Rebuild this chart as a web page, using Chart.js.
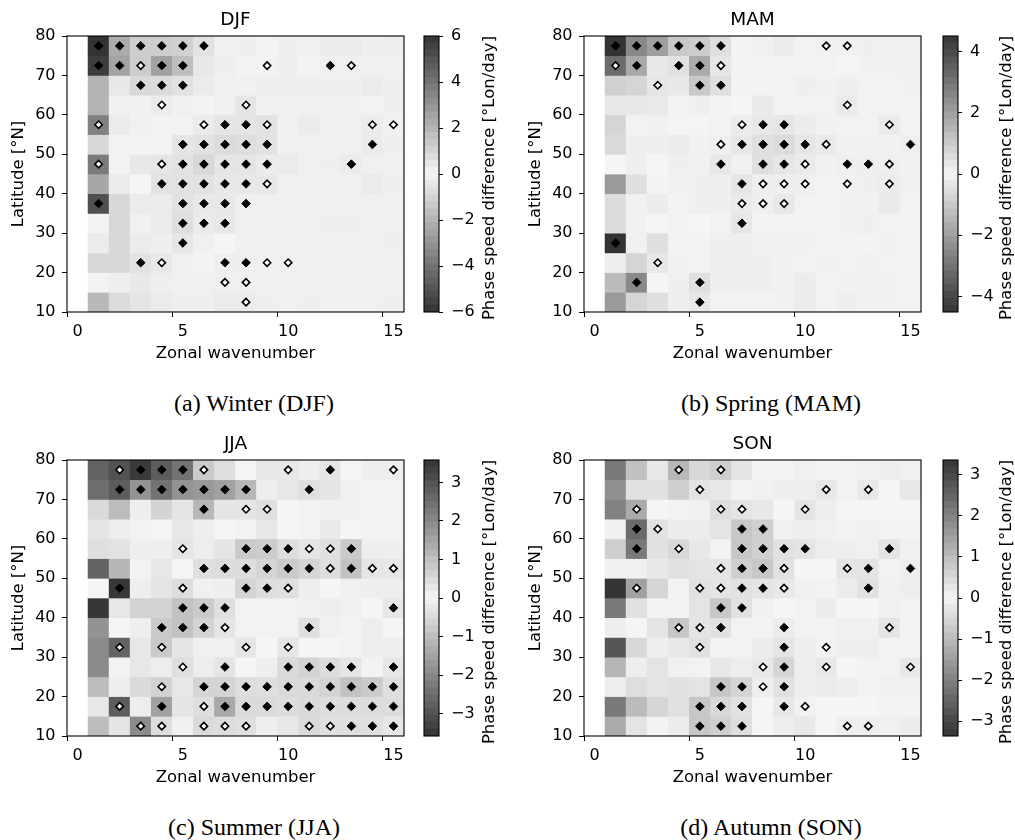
<!DOCTYPE html>
<html lang="en">
  <head>
    <meta charset="utf-8">
    <title>Phase speed difference</title>
    <script src="https://cdn.jsdelivr.net/npm/chart.js"></script>
    <style>
      body { margin: 0; background: #fff; }
      #wrap { position: relative; width: 1015px; height: 840px; overflow: hidden; }
      canvas { position: absolute; }
      .cblabel { position: absolute; width: 320px; text-align: center; font: 16.5px 'DejaVu Sans', sans-serif; color: #000;
                 transform: translate(-50%, -50%) rotate(-90deg); white-space: nowrap; line-height: 20px; }
      .caption { position: absolute; width: 300px; margin-left: -150px; text-align: center;
                 font: 24px 'Liberation Serif', 'Times New Roman', serif; line-height: 24px; color: #000; }
    </style>
  </head>
  <body>
    <div id="wrap">
      <canvas id="hmA" width="410" height="364" style="left:0px;top:0px"></canvas>
      <canvas id="cbA" width="62" height="364" style="left:420px;top:0px"></canvas>
      <canvas id="hmB" width="410" height="364" style="left:517px;top:0px"></canvas>
      <canvas id="cbB" width="62" height="364" style="left:939px;top:0px"></canvas>
      <canvas id="hmC" width="410" height="364" style="left:0px;top:424px"></canvas>
      <canvas id="cbC" width="62" height="364" style="left:420px;top:424px"></canvas>
      <canvas id="hmD" width="410" height="364" style="left:517px;top:424px"></canvas>
      <canvas id="cbD" width="62" height="364" style="left:939px;top:424px"></canvas>

      <div class="cblabel" style="left:489px;top:178px">Phase speed difference [°Lon/day]</div>
      <div class="cblabel" style="left:1006px;top:178px">Phase speed difference [°Lon/day]</div>
      <div class="cblabel" style="left:489px;top:602px">Phase speed difference [°Lon/day]</div>
      <div class="cblabel" style="left:1006px;top:602px">Phase speed difference [°Lon/day]</div>

      <div class="caption" style="left:254px;top:391px">(a) Winter (DJF)</div>
      <div class="caption" style="left:771px;top:391px">(b) Spring (MAM)</div>
      <div class="caption" style="left:254px;top:815px">(c) Summer (JJA)</div>
      <div class="caption" style="left:771px;top:815px">(d) Autumn (SON)</div>
    </div>

  <script>
    // axes
    const wavenumbers = [0, 1, 2, 3, 4, 5, 6, 7, 8, 9, 10, 11, 12, 13, 14, 15];
    const latitudes = [77.5, 72.5, 67.5, 62.5, 57.5, 52.5, 47.5, 42.5, 37.5, 32.5, 27.5, 22.5, 17.5, 12.5];

    // |phase speed difference| per cell, rows = latitudes (north to south), columns = wavenumber 1..15
    const djfValues = [
      [6.0, 2.3, 1.25, 1.25, 1.1, 0.6, 0.15, 0.2, 0.05, 0.2, 0.15, 0.3, 0.3, 0.2, 0.25],
      [5.7, 2.5, 1.25, 2.6, 1.7, 0.4, 0.2, 0.05, 0.1, 0.2, 0.05, 0.15, 0.15, 0.15, 0.15],
      [2.0, 0.4, 0.9, 0.8, 0.6, 0.3, 0.15, 0.15, 0.2, 0.2, 0.2, 0.2, 0.2, 0.3, 0.2],
      [2.0, 0.15, 0.15, 0.3, 0.15, 0.05, 0.15, 0.5, 0.15, 0.15, 0.15, 0.15, 0.15, 0.1, 0.2],
      [3.6, 0.3, 0.15, 0.1, 0.1, 0.3, 0.5, 0.5, 0.6, 0.15, 0.3, 0.15, 0.15, 0.3, 0.15],
      [0.9, 0.1, 0.05, 0.1, 0.5, 0.6, 0.8, 0.7, 0.6, 0.15, 0.15, 0.15, 0.15, 0.3, 0.2],
      [3.8, 0.05, 0.4, 0.45, 0.6, 0.9, 0.5, 0.5, 0.3, 0.3, 0.15, 0.2, 0.3, 0.15, 0.15],
      [2.4, 0.3, 0.0, 0.6, 0.6, 0.6, 0.4, 0.4, 0.4, 0.15, 0.15, 0.15, 0.15, 0.3, 0.2],
      [5.1, 0.9, 0.3, 0.3, 0.6, 0.4, 0.4, 0.2, 0.15, 0.15, 0.15, 0.15, 0.15, 0.15, 0.15],
      [0.05, 0.9, 0.15, 0.3, 0.7, 0.3, 0.4, 0.15, 0.15, 0.15, 0.15, 0.2, 0.2, 0.15, 0.15],
      [0.3, 0.9, 0.3, 0.2, 0.45, 0.15, 0.0, 0.15, 0.15, 0.15, 0.15, 0.15, 0.15, 0.15, 0.2],
      [0.9, 0.9, 0.6, 0.4, 0.15, 0.05, 0.2, 0.2, 0.15, 0.15, 0.15, 0.15, 0.15, 0.15, 0.15],
      [0.05, 0.2, 0.4, 0.2, 0.15, 0.15, 0.2, 0.15, 0.15, 0.15, 0.15, 0.15, 0.15, 0.15, 0.15],
      [1.85, 0.8, 0.5, 0.3, 0.2, 0.2, 0.3, 0.3, 0.2, 0.15, 0.2, 0.15, 0.15, 0.15, 0.2]
    ];
    const mamValues = [
      [4.5, 2.5, 2.0, 1.05, 0.95, 0.5, 0.05, 0.1, 0.2, 0.07, 0.1, 0.1, 0.15, 0.1, 0.1],
      [3.2, 1.8, 0.3, 0.45, 1.75, 0.35, 0.05, 0.05, 0.07, 0.07, 0.07, 0.02, 0.1, 0.1, 0.1],
      [0.85, 0.75, 0.35, 0.3, 1.05, 0.5, 0.05, 0.05, 0.07, 0.15, 0.1, 0.15, 0.07, 0.07, 0.1],
      [0.3, 0.3, 0.25, 0.05, 0.15, 0.05, 0.0, 0.25, 0.07, 0.07, 0.07, 0.25, 0.07, 0.07, 0.05],
      [0.75, 0.07, 0.1, 0.02, 0.02, 0.07, 0.2, 0.3, 0.35, 0.2, 0.1, 0.07, 0.07, 0.25, 0.07],
      [0.65, 0.15, 0.15, 0.2, 0.1, 0.15, 0.3, 0.5, 0.6, 0.35, 0.25, 0.1, 0.1, 0.1, 0.15],
      [0.0, 0.15, 0.0, 0.15, 0.1, 0.3, 0.1, 0.5, 0.35, 0.25, 0.1, 0.15, 0.15, 0.15, 0.1],
      [2.1, 0.5, 0.05, 0.1, 0.15, 0.15, 0.35, 0.15, 0.15, 0.15, 0.07, 0.1, 0.15, 0.2, 0.1],
      [0.55, 0.1, 0.2, 0.05, 0.15, 0.15, 0.25, 0.15, 0.3, 0.07, 0.07, 0.1, 0.1, 0.25, 0.07],
      [0.55, 0.1, 0.0, 0.07, 0.0, 0.07, 0.35, 0.05, 0.07, 0.07, 0.07, 0.1, 0.15, 0.07, 0.07],
      [4.5, 0.1, 0.5, 0.07, 0.07, 0.15, 0.15, 0.1, 0.1, 0.1, 0.07, 0.07, 0.05, 0.1, 0.07],
      [0.15, 0.75, 0.3, 0.1, 0.07, 0.15, 0.15, 0.15, 0.1, 0.07, 0.1, 0.07, 0.1, 0.07, 0.07],
      [1.35, 2.5, 0.0, 0.15, 0.5, 0.15, 0.15, 0.15, 0.1, 0.2, 0.07, 0.1, 0.1, 0.1, 0.07],
      [2.1, 0.75, 0.5, 0.15, 0.3, 0.07, 0.07, 0.07, 0.1, 0.2, 0.07, 0.15, 0.1, 0.1, 0.07]
    ];
    const jjaValues = [
      [2.7, 3.0, 3.45, 2.8, 2.4, 0.8, 0.4, 0.0, 0.25, 0.25, 0.12, 0.3, 0.0, 0.12, 0.12],
      [2.5, 2.8, 1.8, 2.4, 1.8, 1.7, 1.55, 1.15, 0.12, 0.25, 0.4, 0.3, 0.1, 0.05, 0.05],
      [0.5, 1.05, 0.12, 0.6, 0.3, 1.15, 0.3, 0.3, 0.4, 0.0, 0.05, 0.1, 0.1, 0.05, 0.05],
      [0.3, 0.15, 0.05, 0.0, 0.25, 0.12, 0.0, 0.05, 0.25, 0.0, 0.05, 0.2, 0.0, 0.05, 0.05],
      [0.4, 0.35, 0.12, 0.12, 0.3, 0.15, 0.3, 0.8, 0.75, 0.45, 0.3, 0.4, 0.8, 0.12, 0.12],
      [2.7, 1.15, 0.05, 0.25, 0.0, 0.4, 0.45, 0.45, 0.6, 0.8, 0.6, 0.45, 0.95, 0.3, 0.25],
      [0.0, 3.5, 0.12, 0.3, 0.45, 0.1, 0.12, 0.6, 0.45, 0.4, 0.12, 0.0, 0.1, 0.12, 0.12],
      [3.5, 0.25, 0.65, 0.6, 0.95, 0.8, 0.4, 0.05, 0.05, 0.05, 0.1, 0.12, 0.1, 0.0, 0.25],
      [1.8, 0.0, 0.12, 0.8, 0.95, 0.6, 0.3, 0.05, 0.05, 0.05, 0.4, 0.1, 0.05, 0.15, 0.0],
      [1.95, 2.7, 0.25, 0.8, 0.3, 0.1, 0.1, 0.3, 0.0, 0.3, 0.0, 0.0, 0.05, 0.15, 0.12],
      [1.95, 0.05, 0.25, 0.15, 0.4, 0.15, 0.3, 0.0, 0.12, 0.5, 0.65, 0.45, 0.3, 0.05, 0.25],
      [1.05, 0.12, 0.5, 0.65, 0.25, 0.6, 0.6, 0.45, 0.4, 0.5, 0.5, 0.6, 0.95, 0.8, 0.4],
      [0.25, 2.8, 0.15, 1.55, 0.3, 0.4, 1.4, 0.5, 0.5, 0.45, 0.5, 0.45, 0.45, 0.45, 0.45],
      [1.05, 0.3, 1.95, 0.45, 0.1, 0.5, 0.45, 0.4, 0.12, 0.25, 0.5, 0.4, 0.4, 0.4, 0.25]
    ];
    const sonValues = [
      [2.15, 0.9, 0.22, 1.05, 0.5, 0.65, 0.3, 0.03, 0.03, 0.09, 0.03, 0.05, 0.09, 0.12, 0.09],
      [1.75, 0.35, 0.35, 0.65, 0.3, 0.22, 0.03, 0.09, 0.12, 0.12, 0.22, 0.05, 0.22, 0.0, 0.22],
      [2.0, 1.3, 0.0, 0.05, 0.09, 0.4, 0.3, 0.22, 0.0, 0.3, 0.12, 0.0, 0.0, 0.0, 0.0],
      [0.09, 2.4, 0.35, 0.15, 0.15, 0.3, 0.8, 0.65, 0.09, 0.12, 0.09, 0.05, 0.09, 0.05, 0.05],
      [0.65, 2.15, 0.35, 0.5, 0.22, 0.05, 0.8, 0.65, 0.35, 0.3, 0.12, 0.12, 0.09, 0.3, 0.09],
      [0.09, 0.09, 0.22, 0.35, 0.3, 0.3, 0.65, 0.8, 0.35, 0.0, 0.0, 0.3, 0.3, 0.05, 0.12],
      [3.35, 1.45, 0.55, 0.05, 0.35, 0.3, 0.35, 0.3, 0.22, 0.09, 0.05, 0.15, 0.35, 0.09, 0.12],
      [2.15, 0.35, 0.05, 0.05, 0.3, 0.8, 0.35, 0.09, 0.0, 0.05, 0.15, 0.0, 0.0, 0.09, 0.05],
      [0.12, 0.0, 0.3, 0.8, 0.3, 0.35, 0.05, 0.05, 0.15, 0.05, 0.05, 0.09, 0.09, 0.3, 0.05],
      [2.75, 0.5, 0.12, 0.22, 0.35, 0.05, 0.05, 0.15, 0.3, 0.12, 0.05, 0.12, 0.12, 0.05, 0.03],
      [1.1, 0.12, 0.3, 0.09, 0.05, 0.22, 0.12, 0.22, 0.55, 0.12, 0.22, 0.0, 0.05, 0.05, 0.22],
      [0.12, 0.4, 0.3, 0.35, 0.3, 0.8, 0.55, 0.12, 0.35, 0.12, 0.15, 0.12, 0.05, 0.09, 0.09],
      [2.15, 1.0, 0.55, 0.35, 0.8, 0.5, 0.35, 0.0, 0.22, 0.05, 0.0, 0.0, 0.0, 0.05, 0.05],
      [1.3, 0.3, 0.03, 0.15, 0.8, 0.65, 0.4, 0.0, 0.12, 0.22, 0.0, 0.12, 0.12, 0.09, 0.15]
    ];

    // markers: [wavenumber, latitude]
    const djfFilled = [[1,77.5],[2,77.5],[3,77.5],[4,77.5],[5,77.5],[6,77.5],
      [1,72.5],[2,72.5],[4,72.5],[5,72.5],[12,72.5],[3,67.5],[4,67.5],[5,67.5],
      [7,57.5],[8,57.5],[5,52.5],[6,52.5],[7,52.5],[8,52.5],[9,52.5],[14,52.5],
      [5,47.5],[6,47.5],[7,47.5],[8,47.5],[9,47.5],[13,47.5],
      [4,42.5],[5,42.5],[6,42.5],[7,42.5],[8,42.5],[1,37.5],[5,37.5],[6,37.5],[7,37.5],[8,37.5],
      [5,32.5],[6,32.5],[7,32.5],[5,27.5],[3,22.5],[7,22.5],[8,22.5]];
    const djfOpen = [[3,72.5],[9,72.5],[13,72.5],[4,62.5],[8,62.5],
      [1,57.5],[6,57.5],[9,57.5],[14,57.5],[15,57.5],[1,47.5],[4,47.5],[9,42.5],
      [4,22.5],[9,22.5],[10,22.5],[7,17.5],[8,17.5],[8,12.5]];

    const mamFilled = [[1,77.5],[2,77.5],[3,77.5],[4,77.5],[5,77.5],[6,77.5],
      [2,72.5],[4,72.5],[5,72.5],[5,67.5],[6,67.5],[8,57.5],[9,57.5],
      [7,52.5],[8,52.5],[9,52.5],[10,52.5],[15,52.5],
      [6,47.5],[8,47.5],[9,47.5],[12,47.5],[13,47.5],[7,42.5],[7,32.5],[1,27.5],
      [2,17.5],[5,17.5],[5,12.5]];
    const mamOpen = [[11,77.5],[12,77.5],[1,72.5],[6,72.5],[3,67.5],[12,62.5],
      [7,57.5],[14,57.5],[6,52.5],[11,52.5],[10,47.5],[14,47.5],
      [8,42.5],[9,42.5],[10,42.5],[12,42.5],[14,42.5],[7,37.5],[8,37.5],[9,37.5],[3,22.5]];

    const jjaFilled = [[3,77.5],[4,77.5],[5,77.5],[12,77.5],
      [2,72.5],[3,72.5],[4,72.5],[5,72.5],[6,72.5],[7,72.5],[8,72.5],[11,72.5],
      [6,67.5],[8,57.5],[9,57.5],[10,57.5],[13,57.5],
      [6,52.5],[7,52.5],[8,52.5],[9,52.5],[10,52.5],[11,52.5],[13,52.5],
      [2,47.5],[8,47.5],[9,47.5],[5,42.5],[6,42.5],[7,42.5],[15,42.5],
      [4,37.5],[5,37.5],[6,37.5],[11,37.5],
      [7,27.5],[10,27.5],[11,27.5],[12,27.5],[13,27.5],[15,27.5],
      [6,22.5],[7,22.5],[8,22.5],[9,22.5],[10,22.5],[11,22.5],[12,22.5],[13,22.5],[14,22.5],[15,22.5],
      [4,17.5],[7,17.5],[8,17.5],[9,17.5],[10,17.5],[11,17.5],[12,17.5],[13,17.5],[14,17.5],[15,17.5],
      [13,12.5],[14,12.5],[15,12.5]];
    const jjaOpen = [[2,77.5],[6,77.5],[10,77.5],[15,77.5],[8,67.5],[9,67.5],
      [5,57.5],[11,57.5],[12,57.5],[12,52.5],[14,52.5],[15,52.5],
      [5,47.5],[10,47.5],[7,37.5],[2,32.5],[4,32.5],[8,32.5],[10,32.5],
      [5,27.5],[4,22.5],[2,17.5],[6,17.5],
      [3,12.5],[4,12.5],[6,12.5],[7,12.5],[8,12.5],[11,12.5],[12,12.5]];

    const sonFilled = [[2,62.5],[7,62.5],[8,62.5],
      [2,57.5],[7,57.5],[8,57.5],[9,57.5],[10,57.5],[14,57.5],
      [7,52.5],[8,52.5],[13,52.5],[15,52.5],[7,47.5],[8,47.5],[13,47.5],
      [6,42.5],[7,42.5],[6,37.5],[9,37.5],[9,32.5],[9,27.5],
      [6,22.5],[7,22.5],[9,22.5],[5,17.5],[6,17.5],[7,17.5],[9,17.5],
      [5,12.5],[6,12.5],[7,12.5]];
    const sonOpen = [[4,77.5],[6,77.5],[5,72.5],[11,72.5],[13,72.5],
      [2,67.5],[6,67.5],[7,67.5],[10,67.5],[3,62.5],[4,57.5],
      [6,52.5],[9,52.5],[12,52.5],[2,47.5],[5,47.5],[6,47.5],[9,47.5],
      [4,37.5],[5,37.5],[14,37.5],[5,32.5],[11,32.5],[8,27.5],[11,27.5],[15,27.5],
      [8,22.5],[10,17.5],[12,12.5],[13,12.5]];

    // colour bar limits and ticks
    const djfLimit = 6.0, mamLimit = 4.51, jjaLimit = 3.58, sonLimit = 3.36;
    const djfTicks = [-6, -4, -2, 0, 2, 4, 6];
    const mamTicks = [-4, -2, 0, 2, 4];
    const jjaTicks = [-3, -2, -1, 0, 1, 2, 3];
    const sonTicks = [-3, -2, -1, 0, 1, 2, 3];

    Chart.defaults.font.family = "'DejaVu Sans', sans-serif";
    Chart.defaults.font.size = 16;
    Chart.defaults.color = '#000';

    // grey that is dark for large |v| on both sides and nearly white around zero
    function greyFor(v, vmax) {
      const t = Math.min(1, Math.abs(v) / vmax);
      const g = Math.round(245 - 194 * t);
      return 'rgb(' + g + ',' + g + ',' + g + ')';
    }

    const frame = {
      id: 'frame',
      afterDatasetsDraw(chart) {
        const a = chart.chartArea;
        const ctx = chart.ctx;
        ctx.save();
        ctx.strokeStyle = '#000';
        ctx.lineWidth = 1.1;
        ctx.strokeRect(a.left, a.top, a.right - a.left, a.bottom - a.top);
        ctx.restore();
      }
    };

    function heatmap(id, title, values, filled, open) {
      const vmax = {DJF: djfLimit, MAM: mamLimit, JJA: jjaLimit, SON: sonLimit}[title];
      const cells = latitudes.map((lat, r) => ({
        type: 'bar',
        data: wavenumbers.map(k => k === 0 ? null : [lat - 2.5, lat + 2.5]),
        backgroundColor: wavenumbers.map(k => k === 0 ? 'rgba(0,0,0,0)' : greyFor(values[r][k - 1], vmax)),
        borderWidth: 0,
        grouped: false,
        barPercentage: 1,
        categoryPercentage: 1,
        order: 2
      }));
      const marks = [
        {
          type: 'scatter',
          data: filled.map(p => ({x: p[0], y: p[1]})),
          pointStyle: 'rectRot',
          pointRadius: 4.3,
          backgroundColor: '#000',
          borderColor: '#000',
          borderWidth: 1,
          order: 0
        },
        {
          type: 'scatter',
          data: open.map(p => ({x: p[0], y: p[1]})),
          pointStyle: 'rectRot',
          pointRadius: 3.7,
          backgroundColor: '#fff',
          borderColor: '#000',
          borderWidth: 1.6,
          order: 0
        }
      ];
      return new Chart(document.getElementById(id), {
        type: 'bar',
        data: { labels: wavenumbers, datasets: cells.concat(marks) },
        options: {
          responsive: false,
          animation: false,
          events: [],
          layout: { padding: { left: 0, right: 6, top: 0, bottom: 0 } },
          plugins: {
            legend: { display: false },
            tooltip: { enabled: false },
            title: { display: true, text: title, fullSize: false, font: { size: 18.5, weight: 'normal' },
                     padding: { top: 9.5, bottom: 4.3 }, color: '#000' }
          },
          scales: {
            x: {
              type: 'category',
              offset: true,
              afterFit: s => { s.height = 52; },
              grid: { drawOnChartArea: false, tickLength: 5,
                      color: c => c.index % 5 === 0 ? '#000' : 'rgba(0,0,0,0)' },
              border: { display: false },
              ticks: { autoSkip: false, maxRotation: 0, padding: 5,
                       callback: function(v, i) { return i % 5 === 0 ? String(this.getLabelForValue(v)) : ''; } },
              title: { display: true, text: 'Zonal wavenumber', font: { size: 16.5 }, padding: { top: 0, bottom: 0 } }
            },
            y: {
              type: 'linear',
              min: 10,
              max: 80,
              afterFit: s => { s.width = 67; },
              grid: { drawOnChartArea: false, tickLength: 5, color: '#000' },
              border: { display: false },
              ticks: { stepSize: 10, padding: 6.5 },
              title: { display: true, text: 'Latitude [°N]', font: { size: 16.5 }, padding: { top: 9, bottom: 0 } }
            }
          }
        },
        plugins: [frame]
      });
    }

    function colorbar(id, vmax, ticks) {
      const n = 40;
      const bands = [];
      for (let i = 0; i < n; i++) {
        const lo = -vmax + 2 * vmax * i / n;
        const hi = -vmax + 2 * vmax * (i + 1) / n;
        bands.push({
          data: [[lo, hi]],
          backgroundColor: greyFor((lo + hi) / 2, vmax),
          borderWidth: 0,
          grouped: false,
          barPercentage: 1,
          categoryPercentage: 1
        });
      }
      return new Chart(document.getElementById(id), {
        type: 'bar',
        data: { labels: [''], datasets: bands },
        options: {
          responsive: false,
          animation: false,
          events: [],
          layout: { padding: { left: 4, right: 0, top: 36, bottom: 52 } },
          plugins: { legend: { display: false }, tooltip: { enabled: false } },
          scales: {
            x: { display: false },
            y: {
              position: 'right',
              min: -vmax,
              max: vmax,
              afterFit: s => { s.width = 43; },
              afterBuildTicks: s => { s.ticks = ticks.map(v => ({value: v})); },
              grid: { drawOnChartArea: false, tickLength: 4, color: '#000' },
              border: { display: false },
              ticks: { padding: 8, callback: v => v < 0 ? '\u2212' + Math.abs(v) : String(v) }
            }
          }
        },
        plugins: [frame]
      });
    }

    heatmap('hmA', 'DJF', djfValues, djfFilled, djfOpen);
    heatmap('hmB', 'MAM', mamValues, mamFilled, mamOpen);
    heatmap('hmC', 'JJA', jjaValues, jjaFilled, jjaOpen);
    heatmap('hmD', 'SON', sonValues, sonFilled, sonOpen);
    colorbar('cbA', djfLimit, djfTicks);
    colorbar('cbB', mamLimit, mamTicks);
    colorbar('cbC', jjaLimit, jjaTicks);
    colorbar('cbD', sonLimit, sonTicks);
  </script>
  </body>
</html>
